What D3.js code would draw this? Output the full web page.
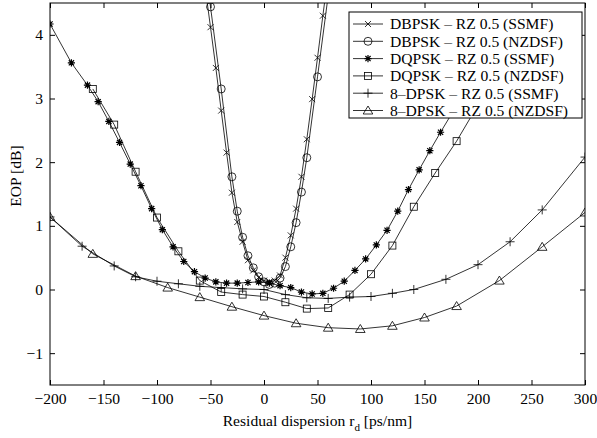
<!DOCTYPE html>
<html>
<head>
<meta charset="utf-8">
<script src="https://cdn.jsdelivr.net/npm/d3@7"></script>
<style>
  body { margin: 0; background: #fff; }
  svg text { font-family: "Liberation Serif", "Times New Roman", Times, serif; }
</style>
</head>
<body>
<script>
const width = 597;
const height = 438;
const margin = {top: 3, right: 12, bottom: 53, left: 50};
const fontSize = 15.6;

// DBPSK - RZ 0.5 (SSMF), x markers
const dbpskSsmfX = [-55, -50, -45, -40, -35, -30, -25, -20, -15, -10, -5, 0, 5, 10, 15, 20, 25, 30, 35, 40, 45, 50, 55, 60];
const dbpskSsmfY = [4.75, 4.12, 3.48, 2.81, 2.15, 1.52, 1.06, 0.75, 0.46, 0.30, 0.19, 0.14, 0.12, 0.14, 0.22, 0.50, 0.85, 1.27, 1.77, 2.36, 2.99, 3.64, 4.30, 4.95];

// DBPSK - RZ 0.5 (NZDSF), circles
const dbpskNzX = [-60, -50, -40, -30, -25, -20, -15, -10, -5, 0, 5, 10, 15, 20, 25, 30, 35, 40, 50, 60];
const dbpskNzY = [5.70, 4.44, 3.15, 1.77, 1.23, 0.82, 0.53, 0.34, 0.20, 0.12, 0.08, 0.10, 0.18, 0.36, 0.67, 1.05, 1.53, 2.07, 3.34, 4.62];

// DQPSK - RZ 0.5 (SSMF), asterisks
const dqpskSsmfX = [-200, -180, -165, -155, -145, -135, -125, -115, -105, -95, -85, -75, -65, -55, -45, -35, -25, -15, -5, 5, 15, 25, 35, 45, 55, 65, 75, 85, 95, 105, 115, 125, 135, 145, 155, 165, 175, 185];
const dqpskSsmfY = [4.17, 3.56, 3.21, 2.95, 2.64, 2.31, 1.97, 1.63, 1.27, 0.94, 0.67, 0.44, 0.28, 0.18, 0.12, 0.10, 0.10, 0.11, 0.12, 0.10, 0.06, 0.03, -0.04, -0.07, -0.06, 0.02, 0.13, 0.30, 0.48, 0.70, 0.93, 1.23, 1.57, 1.88, 2.18, 2.47, 2.75, 3.05];

// DQPSK - RZ 0.5 (NZDSF), squares
const dqpskNzX = [-160, -140, -120, -100, -80, -60, -40, -20, 0, 20, 40, 60, 80, 100, 120, 140, 160, 180, 200];
const dqpskNzY = [3.15, 2.59, 1.85, 1.13, 0.60, 0.14, -0.04, -0.08, -0.11, -0.20, -0.30, -0.29, -0.08, 0.24, 0.69, 1.30, 1.83, 2.33, 2.90];

// 8-DPSK - RZ 0.5 (SSMF), plus
const dpsk8SsmfX = [-200, -170, -140, -120, -100, -80, -60, -40, -20, 0, 20, 40, 60, 80, 100, 120, 140, 170, 200, 230, 260, 300];
const dpsk8SsmfY = [1.14, 0.68, 0.37, 0.20, 0.13, 0.09, 0.05, 0.03, 0.01, 0.00, -0.08, -0.13, -0.14, -0.12, -0.11, -0.06, 0.00, 0.16, 0.39, 0.75, 1.25, 2.08];

// 8-DPSK - RZ 0.5 (NZDSF), triangles
const dpsk8NzX = [-200, -160, -120, -90, -60, -30, 0, 30, 60, 90, 120, 150, 180, 220, 260, 300];
const dpsk8NzY = [1.14, 0.56, 0.21, 0.03, -0.12, -0.27, -0.41, -0.53, -0.60, -0.62, -0.57, -0.44, -0.26, 0.14, 0.67, 1.21];

const seriesNames = [
  "DBPSK \u2013 RZ 0.5 (SSMF)",
  "DBPSK \u2013 RZ 0.5 (NZDSF)",
  "DQPSK \u2013 RZ 0.5 (SSMF)",
  "DQPSK \u2013 RZ 0.5 (NZDSF)",
  "8\u2013DPSK \u2013 RZ 0.5 (SSMF)",
  "8\u2013DPSK \u2013 RZ 0.5 (NZDSF)"
];
const markerTypes = ["x", "circle", "star", "square", "plus", "triangle"];

const xTicks = [-200, -150, -100, -50, 0, 50, 100, 150, 200, 250, 300];
const yTicks = [-1, 0, 1, 2, 3, 4];

const series = [
  [dbpskSsmfX, dbpskSsmfY],
  [dbpskNzX, dbpskNzY],
  [dqpskSsmfX, dqpskSsmfY],
  [dqpskNzX, dqpskNzY],
  [dpsk8SsmfX, dpsk8SsmfY],
  [dpsk8NzX, dpsk8NzY]
].map((s, i) => ({
  name: seriesNames[i],
  marker: markerTypes[i],
  points: s[0].map((x, j) => ({x: x, y: s[1][j]}))
}));

const x = d3.scaleLinear().domain([-200, 300]).range([margin.left, width - margin.right]);
const y = d3.scaleLinear().domain([-1.5, 4.5]).range([height - margin.bottom, margin.top]);

const svg = d3.select(document.body).append("svg")
  .attr("width", width)
  .attr("height", height);

svg.append("defs").append("clipPath").attr("id", "plot")
  .append("rect")
  .attr("x", x(-200)).attr("y", y(4.5))
  .attr("width", x(300) - x(-200)).attr("height", y(-1.5) - y(4.5));

// draw a marker shape centered at 0,0
function drawMarker(g, type) {
  if (type === "x") {
    g.append("path").attr("d", "M-3,-3L3,3M-3,3L3,-3");
  } else if (type === "circle") {
    g.append("circle").attr("r", 4);
  } else if (type === "star") {
    g.append("path").attr("d", "M-3.6,0L3.6,0M0,-3.6L0,3.6M-2.6,-2.6L2.6,2.6M-2.6,2.6L2.6,-2.6")
      .attr("stroke-width", 1.2);
  } else if (type === "square") {
    g.append("rect").attr("x", -3.5).attr("y", -3.5).attr("width", 7).attr("height", 7);
  } else if (type === "plus") {
    g.append("path").attr("d", "M-4.5,0L4.5,0M0,-4.5L0,4.5");
  } else if (type === "triangle") {
    g.append("path").attr("d", "M0,-4.5L4.8,3.5L-4.8,3.5Z");
  }
}

const line = d3.line().x(d => x(d.x)).y(d => y(d.y));

const plot = svg.append("g").attr("clip-path", "url(#plot)");

plot.selectAll("path.series")
  .data(series)
  .join("path")
  .attr("class", "series")
  .attr("fill", "none")
  .attr("stroke", "#000")
  .attr("stroke-width", 0.8)
  .attr("d", d => line(d.points));

series.forEach(s => {
  plot.append("g")
    .selectAll("g")
    .data(s.points)
    .join("g")
    .attr("transform", d => `translate(${x(d.x)},${y(d.y)})`)
    .attr("fill", "none")
    .attr("stroke", "#000")
    .attr("stroke-width", 0.8)
    .each(function() { drawMarker(d3.select(this), s.marker); });
});

// axes with inward ticks, on all four sides
const tickLen = 5;
const axisStyle = g => {
  g.select(".domain").remove();
  g.attr("font-family", null).attr("font-size", null);
  g.selectAll("line").attr("stroke", "#000");
  g.selectAll("text").attr("fill", "#000").attr("font-size", fontSize);
};
const fmt = d => d < 0 ? "\u2212" + Math.abs(d) : String(d);

svg.append("g")
  .attr("transform", `translate(0,${y(-1.5)})`)
  .call(d3.axisBottom(x).tickValues(xTicks).tickSizeInner(-tickLen).tickSizeOuter(0).tickPadding(8).tickFormat(fmt))
  .call(axisStyle);
svg.append("g")
  .attr("transform", `translate(0,${y(4.5)})`)
  .call(d3.axisTop(x).tickValues(xTicks).tickSizeInner(-tickLen).tickSizeOuter(0).tickFormat(""))
  .call(axisStyle);
svg.append("g")
  .attr("transform", `translate(${x(-200)},0)`)
  .call(d3.axisLeft(y).tickValues(yTicks).tickSizeInner(-tickLen).tickSizeOuter(0).tickPadding(7).tickFormat(fmt))
  .call(axisStyle);
svg.append("g")
  .attr("transform", `translate(${x(300)},0)`)
  .call(d3.axisRight(y).tickValues(yTicks).tickSizeInner(-tickLen).tickSizeOuter(0).tickFormat(""))
  .call(axisStyle);

svg.append("rect")
  .attr("x", x(-200)).attr("y", y(4.5))
  .attr("width", x(300) - x(-200)).attr("height", y(-1.5) - y(4.5))
  .attr("fill", "none").attr("stroke", "#000").attr("stroke-width", 1);

// axis titles
svg.append("text")
  .attr("x", (x(-200) + x(300)) / 2)
  .attr("y", 426)
  .attr("text-anchor", "middle")
  .attr("font-size", fontSize)
  .call(t => {
    t.append("tspan").text("Residual dispersion r");
    t.append("tspan").attr("font-size", 11).attr("dy", 5).text("d");
    t.append("tspan").attr("dy", -5).text(" [ps/nm]");
  });

svg.append("text")
  .attr("transform", "translate(21,176) rotate(-90)")
  .attr("text-anchor", "middle")
  .attr("font-size", fontSize)
  .text("EOP [dB]");

// legend
const legend = svg.append("g").attr("transform", "translate(349,12)");
legend.append("rect")
  .attr("width", 233).attr("height", 106)
  .attr("fill", "#fff").attr("stroke", "#000").attr("stroke-width", 1);

const rows = legend.selectAll("g.row")
  .data(series)
  .join("g")
  .attr("class", "row")
  .attr("transform", (d, i) => `translate(0,${12 + i * 17.3})`);

rows.append("line")
  .attr("x1", 4).attr("x2", 34)
  .attr("stroke", "#000").attr("stroke-width", 0.8);
rows.append("g")
  .attr("transform", "translate(19,0)")
  .attr("fill", "none").attr("stroke", "#000").attr("stroke-width", 0.8)
  .each(function(d) { drawMarker(d3.select(this), d.marker); });
rows.append("text")
  .attr("x", 41)
  .attr("dy", "0.35em")
  .attr("font-size", fontSize)
  .text(d => d.name);
</script>
</body>
</html>
